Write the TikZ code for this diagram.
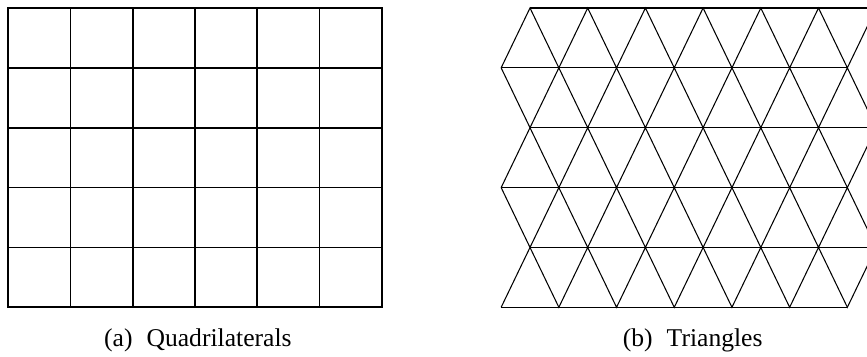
\documentclass[tikz,border=0pt]{standalone}
\usepackage{fontspec}
\setmainfont{Liberation Serif}
\tikzset{
  quadline/.style={draw=black,line width=1.7pt,line cap=rect},
  triline/.style={draw=black,line width=1.05pt,line join=miter},
  caption/.style={font=\fontsize{25.6}{30}\selectfont,anchor=base west,inner sep=0pt},
}
\begin{document}
\begin{tikzpicture}[x=1pt,y=1pt]
\useasboundingbox (0,0) rectangle (867,356);
% quadrilateral mesh
\foreach \i in {0,...,6}
  \draw[quadline] (8.3+62.23*\i,48.7) -- (8.3+62.23*\i,348);
\foreach \j in {0,...,5}
  \draw[quadline] (8.3,48.7+59.86*\j) -- (381.7,48.7+59.86*\j);
% triangle mesh
\begin{scope}
\clip (480,0) rectangle (867,356);
\foreach \j [evaluate=\j as \yrow using {348-59.86*\j},
             evaluate=\j as \xrow using {530-28.85*mod(\j,2)}] in {0,...,5}
  \draw[triline] (\xrow,\yrow) -- (\xrow+346.2,\yrow);
\foreach \b [evaluate=\b as \ye using {348-59.86*\b-59.86*mod(\b,2)},
             evaluate=\b as \yo using {348-59.86*(\b+1)+59.86*mod(\b,2)}] in {0,...,4}
  \draw[triline] (501.15,\yo)
    \foreach \n [evaluate=\n as \yy using {\yo+(\ye-\yo)*mod(\n,2)}] in {1,...,13}
      { -- (501.15+28.85*\n,\yy) };
\end{scope}
% captions
\node[caption] (capa) at (104,9.3) {(a)\hspace{14pt}Quadrilaterals};
\node[caption] (capb) at (622.7,9.3) {(b)\hspace{14pt}Triangles};
\end{tikzpicture}
\end{document}
